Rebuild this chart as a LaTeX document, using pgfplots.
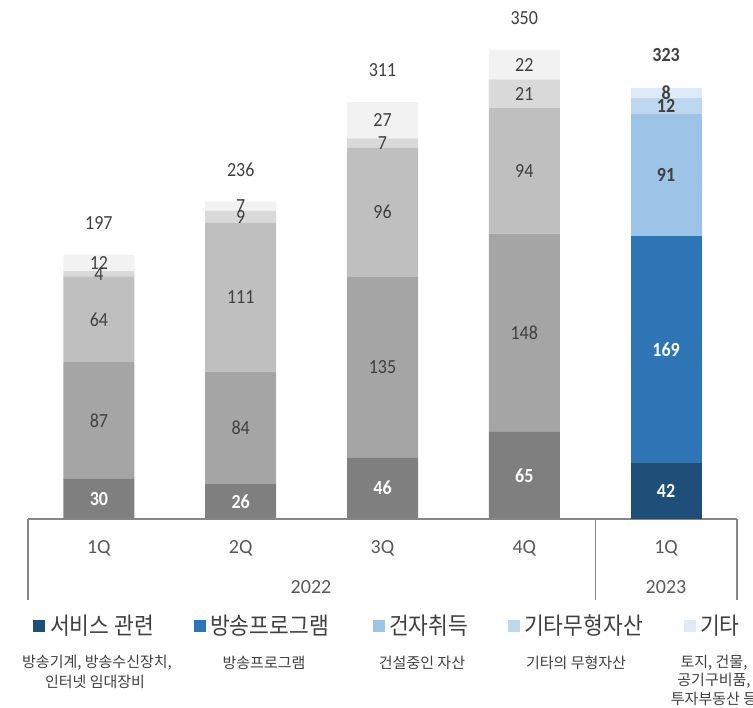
\documentclass[border=0pt]{standalone}
\usepackage{graphicx}
\usepackage{pgfplots}
\pgfplotsset{compat=1.18}
\usepackage{pgfplotstable}
\usepackage{fontspec}
\setmainfont{Carlito}
\newfontfamily\kr{Noto Sans CJK KR}
\definecolor{g1}{HTML}{7F7F7F}
\definecolor{g2}{HTML}{A5A5A5}
\definecolor{g3}{HTML}{BFBFBF}
\definecolor{g4}{HTML}{D9D9D9}
\definecolor{g5}{HTML}{F2F2F2}
\definecolor{b1}{HTML}{1F4E79}
\definecolor{b2}{HTML}{2E75B6}
\definecolor{b3}{HTML}{9DC3E6}
\definecolor{b4}{HTML}{BDD7EE}
\definecolor{b5}{HTML}{DEEBF7}
\definecolor{tx}{HTML}{404040}
\definecolor{tk}{HTML}{595959}
\definecolor{ln}{HTML}{868686}
\pgfplotstableread{
x a b c d e tot
0 30 87 64 4 12 197
1 26 84 111 9 7 236
2 46 135 96 7 27 311
3 65 148 94 21 22 350
}\tA
\pgfplotstableread{
x a b c d e tot
4 42 169 91 12 8 323
}\tB
\newcommand\numf{\fontsize{20}{22}\selectfont}
\pgfplotsset{
  base/.style={bar width=71pt, x=141.8pt, y=1.34pt, xmin=-0.5, xmax=4.5, ymin=0, ymax=387.3,
     clip=false, anchor=south west, at={(28pt,189pt)}, axis line style={draw=none}, ytick=\empty,
     major tick length=0pt, xtick={0,1,2,3,4}, xticklabels={1Q,2Q,3Q,4Q,1Q},
     /pgf/number format/assume math mode=true,
     xticklabel style={anchor=center, yshift=-29pt, font=\fontsize{20}{22}\selectfont, text=tk}},
  bars/.style={fill=#1, draw=none},
  lab/.style={draw=none, mark=none, point meta=explicit,
     nodes near coords={\scalebox{0.9}[1]{\pgfmathprintnumber{\pgfplotspointmeta}}},
     every node near coord/.append style={anchor=center, inner sep=0pt, #1}},
}
\begin{document}
\begin{tikzpicture}
\useasboundingbox (0,0) rectangle (753pt,708pt);
\begin{axis}[base, ybar stacked]
\addplot[bars=g1] table[x=x,y=a]{\tA};
\addplot[bars=g2] table[x=x,y=b]{\tA};
\addplot[bars=g3] table[x=x,y=c]{\tA};
\addplot[bars=g4] table[x=x,y=d]{\tA};
\addplot[bars=g5] table[x=x,y=e]{\tA};
\end{axis}
\begin{axis}[base, ybar stacked, hide axis]
\addplot[bars=b1] table[x=x,y=a]{\tB};
\addplot[bars=b2] table[x=x,y=b]{\tB};
\addplot[bars=b3] table[x=x,y=c]{\tB};
\addplot[bars=b4] table[x=x,y=d]{\tB};
\addplot[bars=b5] table[x=x,y=e]{\tB};
\draw[ln, line width=1.5pt] (axis cs:-0.5,0) -- (axis cs:4.5,0);
\draw[ln, line width=1.2pt] (axis cs:-0.5,0) -- (axis cs:-0.5,-60.5);
\draw[ln, line width=1.2pt] (axis cs:3.5,0) -- (axis cs:3.5,-60.5);
\draw[ln, line width=1.2pt] (axis cs:4.5,0) -- (axis cs:4.5,-60.5);
\end{axis}
\begin{axis}[base, hide axis]
% 2022 labels
\addplot[lab={font=\numf\bfseries, text=white}] table[x=x, y expr=\thisrow{a}/2, meta=a]{\tA};
\addplot[lab={font=\numf, text=tx}] table[x=x, y expr=\thisrow{a}+\thisrow{b}/2, meta=b]{\tA};
\addplot[lab={font=\numf, text=tx}] table[x=x, y expr=\thisrow{a}+\thisrow{b}+\thisrow{c}/2, meta=c]{\tA};
\addplot[lab={font=\numf, text=tx}] table[x=x, y expr=\thisrow{a}+\thisrow{b}+\thisrow{c}+\thisrow{d}/2, meta=d]{\tA};
\addplot[lab={font=\numf, text=tx}] table[x=x, y expr=\thisrow{a}+\thisrow{b}+\thisrow{c}+\thisrow{d}+\thisrow{e}/2, meta=e]{\tA};
\addplot[lab={font=\numf, text=tx, yshift=32pt}] table[x=x, y expr=\thisrow{a}+\thisrow{b}+\thisrow{c}+\thisrow{d}+\thisrow{e}, meta=tot]{\tA};
% 2023 labels
\addplot[lab={font=\numf\bfseries, text=white}] table[x=x, y expr=\thisrow{a}/2, meta=a]{\tB};
\addplot[lab={font=\numf\bfseries, text=white}] table[x=x, y expr=\thisrow{a}+\thisrow{b}/2, meta=b]{\tB};
\addplot[lab={font=\numf\bfseries, text=tx}] table[x=x, y expr=\thisrow{a}+\thisrow{b}+\thisrow{c}/2, meta=c]{\tB};
\addplot[lab={font=\numf\bfseries, text=tx}] table[x=x, y expr=\thisrow{a}+\thisrow{b}+\thisrow{c}+\thisrow{d}/2, meta=d]{\tB};
\addplot[lab={font=\numf\bfseries, text=tx}] table[x=x, y expr=\thisrow{a}+\thisrow{b}+\thisrow{c}+\thisrow{d}+\thisrow{e}/2, meta=e]{\tB};
\addplot[lab={font=\numf\bfseries, text=tx, yshift=32pt}] table[x=x, y expr=\thisrow{a}+\thisrow{b}+\thisrow{c}+\thisrow{d}+\thisrow{e}, meta=tot]{\tB};
\end{axis}
\node[text=tk, font=\fontsize{20}{22}\selectfont] at (311pt,121pt) {2022};
\node[text=tk, font=\fontsize{20}{22}\selectfont] at (666pt,121pt) {2023};
\begin{scope}[every node/.style={anchor=west, inner sep=0pt, text=tx, font=\kr\fontsize{21.5}{24}\selectfont}]
\fill[b1] (33pt,76pt) rectangle ++(12pt,12pt); \node at (50pt,82pt) {\scalebox{1}[1.1]{서비스 관련}};
\fill[b2] (194pt,76pt) rectangle ++(12pt,12pt); \node at (210pt,82pt) {\scalebox{1}[1.1]{방송프로그램}};
\fill[b3] (373pt,76pt) rectangle ++(12pt,12pt); \node at (389pt,82pt) {\scalebox{1}[1.1]{건자취득}};
\fill[b4] (508pt,76pt) rectangle ++(12pt,12pt); \node at (524pt,82pt) {\scalebox{1}[1.1]{기타무형자산}};
\fill[b5] (684pt,76pt) rectangle ++(12pt,12pt); \node at (700pt,82pt) {\scalebox{1}[1.1]{기타}};
\end{scope}
\begin{scope}[every node/.style={anchor=center, inner sep=0pt, text=tx, font=\kr\fontsize{15}{17}\selectfont}]
\node at (97pt,45pt) {방송기계, 방송수신장치,};
\node at (95pt,26pt) {인터넷 임대장비};
\node at (264pt,45pt) {방송프로그램};
\node at (422pt,45pt) {건설중인 자산};
\node at (576pt,45pt) {기타의 무형자산};
\node at (714pt,45pt) {토지, 건물,};
\node at (714pt,27pt) {공기구비품,};
\node at (714pt,9pt) {투자부동산 등};
\end{scope}
\end{tikzpicture}
\end{document}
